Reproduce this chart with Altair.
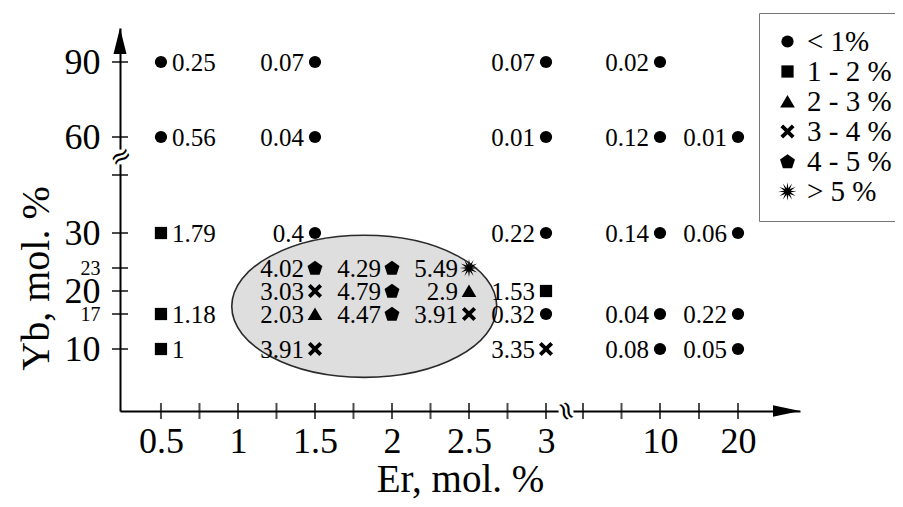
import math
import altair as alt
import pandas as pd

# ---------------- data ----------------
er_vals = [0.5, 1.5, 3, 10,
           0.5, 1.5, 3, 10, 20,
           0.5, 1.5, 3, 10, 20,
           1.5, 2, 2.5,
           1.5, 2, 2.5, 3,
           0.5, 1.5, 2, 2.5, 3, 10, 20,
           0.5, 1.5, 3, 10, 20]
yb_vals = [90, 90, 90, 90,
           60, 60, 60, 60, 60,
           30, 30, 30, 30, 30,
           23, 23, 23,
           20, 20, 20, 20,
           17, 17, 17, 17, 17, 17, 17,
           10, 10, 10, 10, 10]
eff_vals = [0.25, 0.07, 0.07, 0.02,
            0.56, 0.04, 0.01, 0.12, 0.01,
            1.79, 0.4, 0.22, 0.14, 0.06,
            4.02, 4.29, 5.49,
            3.03, 4.79, 2.9, 1.53,
            1.18, 2.03, 4.47, 3.91, 0.32, 0.04, 0.22,
            1, 3.91, 3.35, 0.08, 0.05]

classes = ["< 1%", "1 - 2 %", "2 - 3 %", "3 - 4 %", "4 - 5 %", "> 5 %"]
class_bounds = [1, 2, 3, 4, 5]

x_tick_labels = [0.5, 1, 1.5, 2, 2.5, 3, 10, 20]
x_tick_marks = [0.5, 0.75, 1, 1.25, 1.5, 1.75, 2, 2.25, 2.5, 2.75, 3, 5, 7.5, 10, 15, 20]
y_tick_labels = [10, 17, 20, 23, 30, 60, 90]
y_tick_marks = [10, 17, 20, 23, 30, 40, 60, 90]

# broken axes: piecewise scales (data breakpoints -> pixel positions)
x_domain = [0.234, 3, 5, 10, 20, 28]
x_range = [0, 426, 463, 540, 618, 680]
y_domain = [0, 10, 17, 20, 23, 30, 40, 60, 90, 104]
y_range = [383, 321, 286, 263, 240, 205, 147, 109, 34, 0]

ellipse_center = {"er": [1.82], "yb": [18.0]}

W, H = 680, 383
FONT = "'Liberation Serif', 'Times New Roman', serif"


def cls(v):
    i = 0
    while i < len(class_bounds) and v >= class_bounds[i]:
        i += 1
    return classes[i]


def poly(pts):
    return "M " + " L ".join(f"{x:.3f} {y:.3f}" for x, y in pts) + " Z"


tri_path = poly([(0, -1.05), (1.2, 1.0), (-1.2, 1.0)])
d = 0.38
s = 1.15
x_pts = [(-1, -1 + d), (-1 + d, -1), (0, -d), (1 - d, -1), (1, -1 + d), (d, 0),
         (1, 1 - d), (1 - d, 1), (0, d), (-1 + d, 1), (-1, 1 - d), (-d, 0)]
x_path = poly([(px * s, py * s) for px, py in x_pts])
pent_path = poly([(1.28 * math.cos(math.radians(-90 + 72 * k)),
                   1.28 * math.sin(math.radians(-90 + 72 * k)) + 0.08) for k in range(5)])
star_path = poly([((1.5 if k % 2 == 0 else 0.55) * math.cos(math.radians(-90 + 15 * k)),
                   (1.5 if k % 2 == 0 else 0.55) * math.sin(math.radians(-90 + 15 * k)))
                  for k in range(24)])
shape_range = ["circle", "square", tri_path, x_path, pent_path, star_path]

df = pd.DataFrame({"er": er_vals, "yb": yb_vals, "eff": eff_vals})
df["cls"] = [cls(v) for v in eff_vals]
df["label"] = [f"{v:g}" for v in eff_vals]
df["side"] = ["right" if e == 0.5 else "left" for e in er_vals]

xscale = alt.Scale(type="linear", domain=x_domain, range=x_range, zero=False, nice=False)
yscale = alt.Scale(type="linear", domain=y_domain, range=y_range, zero=False, nice=False)

xaxis = alt.Axis(values=x_tick_labels, format="~g", ticks=False, grid=False,
                 domainColor="black", domainWidth=2,
                 labelFont=FONT, labelFontSize=36, labelColor="black", labelPadding=13,
                 labelOverlap=False, labelFlush=False,
                 title="Er, mol. %", titleFont=FONT, titleFontSize=39, titleFontWeight="normal",
                 titleColor="black", titleBaseline="alphabetic", titleAlign="center",
                 titleX=340, titleY=80)
yaxis = alt.Axis(values=y_tick_labels, ticks=False, grid=False,
                 domainColor="black", domainWidth=2,
                 labelFont=FONT,
                 labelFontSize={"condition": {"test": "datum.value == 17 || datum.value == 23", "value": 20},
                                "value": 36},
                 labelColor="black", labelPadding=20, labelOverlap=False, labelFlush=False,
                 title="Yb, mol. %", titleFont=FONT, titleFontSize=40, titleFontWeight="normal",
                 titleColor="black", titleAngle=-90, titleBaseline="alphabetic", titleAlign="center",
                 titleX=-72, titleY=250)

X = lambda: alt.X("er:Q", scale=xscale, axis=xaxis)
Y = lambda: alt.Y("yb:Q", scale=yscale, axis=yaxis)

ellipse_path = "M -1 0 A 1 0.536 0 1 1 1 0 A 1 0.536 0 1 1 -1 0 Z"
ellipse = alt.Chart(pd.DataFrame(ellipse_center)).mark_point(
    shape=ellipse_path, size=265 ** 2, filled=False, fill="#dedede", fillOpacity=1,
    stroke="#2a2a2a", strokeWidth=1.6, opacity=1
).encode(x=X(), y=Y())

xt = alt.Chart(pd.DataFrame({"er": x_tick_marks})).mark_tick(
    orient="vertical", thickness=2, size=16, color="black"
).encode(x=X(), y=alt.value(H))
yt = alt.Chart(pd.DataFrame({"yb": y_tick_marks})).mark_tick(
    orient="horizontal", thickness=2, size=16, color="black"
).encode(y=Y(), x=alt.value(0))

points = alt.Chart(df).mark_point(filled=True, color="black", size=150, opacity=1, strokeWidth=0).encode(
    x=X(), y=Y(),
    shape=alt.Shape("cls:N", scale=alt.Scale(domain=classes, range=shape_range),
                    legend=alt.Legend(title=None, orient="none", legendX=639, legendY=-15,
                                      labelFont=FONT, labelFontSize=29, labelColor="black",
                                      labelOffset=5, symbolSize=150, symbolFillColor="black",
                                      symbolStrokeColor="black", symbolStrokeWidth=0,
                                      strokeColor="#777", fillColor="white", padding=14,
                                      rowPadding=-5, labelLimit=200)),
)

txt_left = alt.Chart(df[df.side == "left"]).mark_text(
    align="right", baseline="middle", dx=-11, dy=1, font=FONT, fontSize=25, color="black"
).encode(x=X(), y=Y(), text="label:N")
txt_right = alt.Chart(df[df.side == "right"]).mark_text(
    align="left", baseline="middle", dx=11, dy=1, font=FONT, fontSize=25, color="black"
).encode(x=X(), y=Y(), text="label:N")

# axis decorations: arrowheads and break marks
y_arrow = alt.Chart(pd.DataFrame({"a": [0]})).mark_point(
    shape="M 0 -1 L 0.5 1 L -0.5 1 Z", size=676, filled=True, color="black", opacity=1, strokeWidth=0
).encode(x=alt.value(0), y=alt.value(13))
x_arrow = alt.Chart(pd.DataFrame({"a": [0]})).mark_point(
    shape="M 1 0 L -1 -0.42 L -1 0.42 Z", size=729, filled=True, color="black", opacity=1, strokeWidth=0
).encode(x=alt.value(W - 13.5), y=alt.value(H))

brk_bg = alt.Chart(pd.DataFrame({"a": [0]})).mark_point(
    shape="square", size=220, filled=True, color="white", opacity=1, strokeWidth=0
).encode(x=alt.value(0), y=alt.value(129))
brk_bg2 = alt.Chart(pd.DataFrame({"a": [0]})).mark_point(
    shape="square", size=220, filled=True, color="white", opacity=1, strokeWidth=0
).encode(x=alt.value(446), y=alt.value(H))
brk_y = alt.Chart(pd.DataFrame({"t": ["≈"]})).mark_text(
    font="DejaVu Sans", fontSize=26, angle=330, color="black", align="center", baseline="middle"
).encode(x=alt.value(1), y=alt.value(129), text="t:N")
brk_x = alt.Chart(pd.DataFrame({"t": ["≈"]})).mark_text(
    font="DejaVu Sans", fontSize=26, angle=70, color="black", align="center", baseline="middle"
).encode(x=alt.value(446), y=alt.value(H), text="t:N")

chart = alt.layer(
    ellipse, xt, yt, points, txt_left, txt_right, y_arrow, x_arrow, brk_bg, brk_bg2, brk_y, brk_x
).properties(
    width=W, height=H,
    autosize=alt.AutoSizeParams(type="none"),
    padding={"left": 112, "top": 20, "right": 95, "bottom": 88},
    background="white",
).configure_view(stroke=None)

chart.save("out.html", embed_options={"renderer": "svg", "actions": False})
